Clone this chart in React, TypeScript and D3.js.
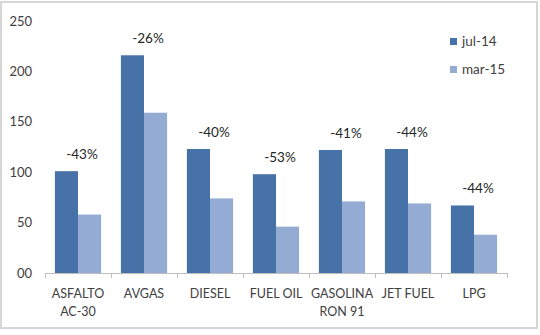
import { useRef, useEffect } from "react";
import * as d3 from "d3";

const categories = ["ASFALTO\nAC-30", "AVGAS", "DIESEL", "FUEL OIL", "GASOLINA\nRON 91", "JET FUEL", "LPG"];
const seriesNames = ["jul-14", "mar-15"];
const jul14 = [101, 216, 123, 98, 122, 123, 67];
const mar15 = [58, 159, 74, 46, 71, 69, 38];
const changeLabels = ["-43%", "-26%", "-40%", "-53%", "-41%", "-44%", "-44%"];
const yTicks = [0, 50, 100, 150, 200, 250];
const yTickLabels = ["00", "50", "100", "150", "200", "250"];

const colors = ["#4672a8", "#94abd3"];

const App = () => {
  const svgRef = useRef<SVGSVGElement>(null);

  useEffect(() => {
    document.body.style.margin = "0";
    const width = 540;
    const height = 335;
    const svg = d3.select(svgRef.current).attr("width", width).attr("height", height);
    svg.selectAll("*").remove();
    const font = "Lato, 'Open Sans', sans-serif";

    // frame
    svg
      .append("rect")
      .attr("x", 1)
      .attr("y", 2)
      .attr("width", 536)
      .attr("height", 326)
      .attr("fill", "#fff")
      .attr("stroke", "#d6d6d6")
      .attr("stroke-width", 2);

    // scales
    const xScale = d3.scaleBand().domain(categories).range([45, 507]).paddingInner(0.3).paddingOuter(0.15);
    const subScale = d3.scaleBand().domain(seriesNames).range([0, xScale.bandwidth()]);
    const yScale = d3.scaleLinear().domain([0, 250]).range([273, 21]);

    // bars
    const series = [jul14, mar15];
    series.forEach((vals, s) => {
      svg
        .append("g")
        .selectAll("rect")
        .data(vals)
        .join("rect")
        .attr("x", (d, i) => xScale(categories[i])! + subScale(seriesNames[s])!)
        .attr("y", (d) => yScale(d))
        .attr("width", subScale.bandwidth())
        .attr("height", (d) => yScale(0) - yScale(d))
        .attr("fill", colors[s]);
    });

    // x axis line and ticks
    const step = xScale.step();
    const x0 = xScale.range()[0];
    const axis = svg.append("g").attr("stroke", "#bfbfbf").attr("stroke-width", 1);
    axis
      .append("line")
      .attr("x1", x0)
      .attr("x2", xScale.range()[1])
      .attr("y1", yScale(0) + 0.5)
      .attr("y2", yScale(0) + 0.5);
    axis
      .selectAll(".tick")
      .data(d3.range(categories.length + 1))
      .join("line")
      .attr("x1", (i) => Math.round(x0 + i * step) + 0.5)
      .attr("x2", (i) => Math.round(x0 + i * step) + 0.5)
      .attr("y1", yScale(0))
      .attr("y2", yScale(0) + 5);

    // y tick labels
    svg
      .append("g")
      .selectAll("text")
      .data(yTicks)
      .join("text")
      .attr("x", 32)
      .attr("y", (d) => yScale(d))
      .attr("dy", "0.35em")
      .attr("text-anchor", "end")
      .attr("font-family", font)
      .attr("font-size", 13)
      .attr("fill", "#404040")
      .text((d, i) => yTickLabels[i]);

    // category labels
    const cat = svg
      .append("g")
      .selectAll("text")
      .data(categories)
      .join("text")
      .attr("x", (d) => xScale(d)! + xScale.bandwidth() / 2)
      .attr("y", 298)
      .attr("text-anchor", "middle")
      .attr("font-family", font)
      .attr("font-size", 12.5)
      .attr("fill", "#404040");
    cat
      .selectAll("tspan")
      .data((d) => d.split("\n"))
      .join("tspan")
      .attr("x", function () {
        return (this.parentNode as SVGTextElement).getAttribute("x");
      })
      .attr("dy", (d, i) => (i === 0 ? 0 : 18))
      .text((d) => d);

    // change labels
    svg
      .append("g")
      .selectAll("text")
      .data(changeLabels)
      .join("text")
      .attr("x", (d, i) => xScale(categories[i])! + xScale.bandwidth() / 2 + 4)
      .attr("y", (d, i) => yScale(jul14[i]) - 17)
      .attr("dy", "0.35em")
      .attr("text-anchor", "middle")
      .attr("font-family", font)
      .attr("font-size", 13.5)
      .attr("fill", "#262626")
      .text((d) => d);

    // legend
    const legend = svg
      .append("g")
      .selectAll("g")
      .data(seriesNames)
      .join("g")
      .attr("transform", (d, i) => `translate(450,${41.5 + i * 28})`);
    legend
      .append("rect")
      .attr("x", 0)
      .attr("y", -3.5)
      .attr("width", 7)
      .attr("height", 7)
      .attr("fill", (d, i) => colors[i]);
    legend
      .append("text")
      .attr("x", 12)
      .attr("dy", "0.35em")
      .attr("font-family", font)
      .attr("font-size", 13.5)
      .attr("fill", "#404040")
      .text((d) => d);
  }, []);

  return <svg ref={svgRef}></svg>;
};

export default App;
